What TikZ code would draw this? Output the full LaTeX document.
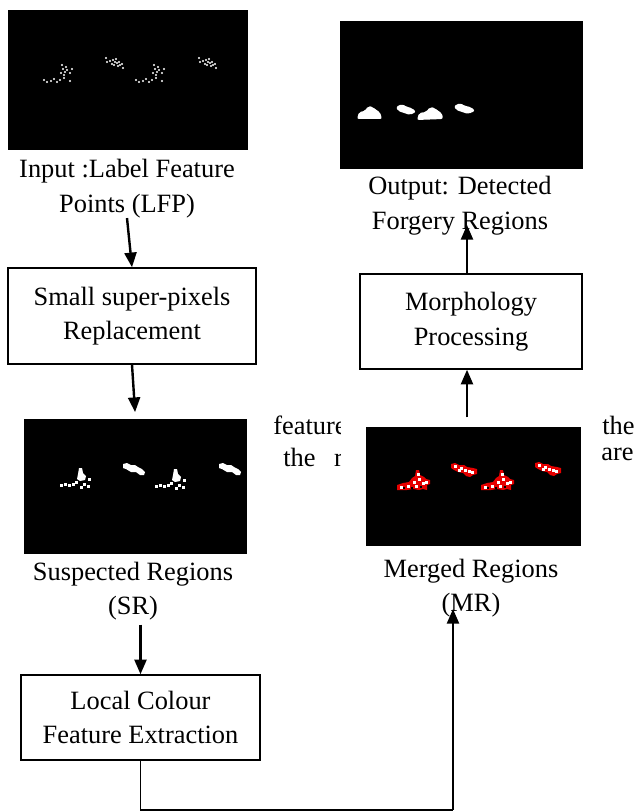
\documentclass[tikz,border=0pt]{standalone}
\usepackage{fontspec}
\setmainfont{Liberation Serif}
\usetikzlibrary{arrows.meta, positioning}
\definecolor{mrred}{RGB}{230,0,0}

\begin{document}
\begin{tikzpicture}[x=0.75pt, y=-0.75pt, >={Triangle[length=11pt,width=9pt]},
        font=\fontsize{19.8pt}{26pt}\selectfont,
        proc/.style={draw, line width=1.1pt, align=center, inner sep=0pt},
        captext/.style={align=center, inner sep=0pt},
        shot/.style={fill=black, inner sep=0pt},
        frag/.style={anchor=base west, inner sep=0pt},
        flow/.style={->, line width=1.8pt}]

    \useasboundingbox (0,0) rectangle (633,812);

    \node[shot, minimum width=180pt, minimum height=105pt] (lfpimg) at (128,80) {};
    \node[shot, minimum width=182.25pt, minimum height=111pt] (outimg) at (461.5,95) {};
    \node[shot, minimum width=167.25pt, minimum height=101.25pt] (srimg) at (135.5,486.5) {};
    \node[shot, minimum width=161.25pt, minimum height=89.25pt] (mrimg) at (473.5,486.5) {};

    % feature points
    \foreach \dx in {0,92}
        \foreach \px/\py in {44/80,47/82,51/81,54/79,57/82,60/80,64/78,70/81,61/73,63/69,62/65,65/72,67/70,70/73,72/69,64/75,66/67}
            \fill[white] (\px+\dx,\py) circle (0.8pt);
    \foreach \dx in {0,93}
        \foreach \px/\py in {106/58,107/62,110/61,112/64,113/60,115/62,116/59,117/63,119/62,120/65,122/64,123/68,118/66,114/65}
            \fill[white] (\px+\dx,\py) circle (0.8pt);

    % detected regions
    \fill[white, rounded corners=1.5pt] (357,119) -- (359,112) -- (365,111) -- (368,106) -- (373,107) -- (376,110) -- (380,112) -- (382,119) -- cycle;
    \fill[white, rounded corners=1.5pt] (396,107) -- (402,104) -- (407,107) -- (412,108) -- (416,112) -- (410,115) -- (404,113) -- (398,111) -- cycle;
    \fill[white, rounded corners=1.5pt] (417,120) -- (419,113) -- (426,112) -- (430,107) -- (435,108) -- (438,111) -- (442,113) -- (443,119) -- cycle;
    \fill[white, rounded corners=1.5pt] (454,106) -- (460,103) -- (465,106) -- (471,107) -- (475,111) -- (468,114) -- (462,112) -- (456,110) -- cycle;

    % suspected regions
    \foreach \ox/\oy in {60/468,155/469} {
        \fill[white] (\ox+18,\oy+6) -- (\ox+19,\oy+0) -- (\ox+22,\oy+0) -- (\ox+23,\oy+5) -- (\ox+26,\oy+8) -- (\ox+25,\oy+12) -- (\ox+20,\oy+13) -- (\ox+17,\oy+11) -- cycle;
        \foreach \px/\py in {0/16,4/15,8/16,12/15,15/13,20/18,27/17,28/10,23/15}
            \fill[white] (\ox+\px,\oy+\py) rectangle ++(3,3);
    }
    \foreach \ox/\oy in {123/463,219/463}
        \fill[white] (\ox+0,\oy+1) -- (\ox+4,\oy+0) -- (\ox+8,\oy+2) -- (\ox+12,\oy+2) -- (\ox+15,\oy+4) -- (\ox+19,\oy+6) -- (\ox+22,\oy+9) -- (\ox+21,\oy+12) -- (\ox+17,\oy+12) -- (\ox+13,\oy+9) -- (\ox+8,\oy+9) -- (\ox+3,\oy+6) -- (\ox+0,\oy+5) -- cycle;

    % merged regions
    \foreach \ox/\oy in {397/470,481/470} {
        \fill[mrred] (\ox+0,\oy+20) -- (\ox+0,\oy+15) -- (\ox+6,\oy+13) -- (\ox+12,\oy+12) -- (\ox+15,\oy+8) -- (\ox+18,\oy+6) -- (\ox+19,\oy+0) -- (\ox+22,\oy+0) -- (\ox+23,\oy+5) -- (\ox+27,\oy+7) -- (\ox+29,\oy+9) -- (\ox+33,\oy+10) -- (\ox+33,\oy+14) -- (\ox+30,\oy+15) -- (\ox+30,\oy+20) -- (\ox+26,\oy+19) -- (\ox+22,\oy+20) -- (\ox+16,\oy+19) -- (\ox+10,\oy+20) -- cycle;
        \foreach \px/\py in {20/3,21/8,16/11,3/16,10/15,25/12,18/15,28/11}
            \fill[white] (\ox+\px,\oy+\py) rectangle ++(3,3);
        \foreach \px/\py in {6/17,14/17,23/16}
            \fill[black] (\ox+\px,\oy+\py) rectangle ++(2,2);
    }
    \foreach \ox/\oy in {451/463,535/462} {
        \fill[mrred] (\ox+0,\oy+1) -- (\ox+4,\oy+0) -- (\ox+8,\oy+2) -- (\ox+13,\oy+2) -- (\ox+16,\oy+4) -- (\ox+22,\oy+5) -- (\ox+26,\oy+6) -- (\ox+26,\oy+11) -- (\ox+22,\oy+12) -- (\ox+19,\oy+14) -- (\ox+15,\oy+13) -- (\ox+12,\oy+10) -- (\ox+7,\oy+9) -- (\ox+3,\oy+7) -- (\ox+0,\oy+5) -- cycle;
        \foreach \px/\py in {3/2,9/4,13/6,17/7,7/6,20/8}
            \fill[white] (\ox+\px,\oy+\py) rectangle ++(3,3);
    }

    \node[captext] (lfpcap) at (127,188.5) {Input :Label Feature\\Points (LFP)};
    \node[captext] (outcap) at (460,206) {Output: Detected\\Forgery Regions};
    \node[captext] (srcap) at (133,591) {Suspected Regions\\(SR)};
    \node[captext] (mrcap) at (471,588) {Merged Regions\\(MR)};

    \node[proc, minimum width=186pt, minimum height=72pt] (spr) at (132,316) {Small super-pixels\\Replacement};
    \node[proc, minimum width=166.5pt, minimum height=71.25pt] (morph) at (471,321.5) {Morphology\\Processing};
    \node[proc, minimum width=179.25pt, minimum height=63.75pt] (lcfe) at (140.5,717.5) {Local Colour\\Feature Extraction};

    \begin{scope}
        \clip (260,400) rectangle (340,480);
        \node[frag] (frag1) at (273,434) {feature};
        \node[frag] (frag2) at (283,466) {the\hspace{14pt}r};
    \end{scope}
    \node[frag] (frag3) at (602,434) {the};
    \node[frag] (frag4) at (601,460) {are};

    \coordinate (bend) at (453,810);
    \coordinate (mrin) at (453,609);
    \coordinate (outin) at (467,225);

    \draw[flow] (lfpcap.south) -- (spr.north);
    \draw[flow, shorten >=5pt] (spr.south) -- (srimg.north);
    \draw[flow, shorten <=3pt] (srcap.south -| lcfe.north) -- (lcfe.north);
    \draw[line width=1pt] (lcfe.south) |- (bend);
    \draw[flow] (bend) -- (mrin);
    \draw[flow, shorten <=7pt] (mrimg.north -| outin) -- (morph.south -| outin);
    \draw[flow] (morph.north -| outin) -- (outin);
\end{tikzpicture}
\end{document}
